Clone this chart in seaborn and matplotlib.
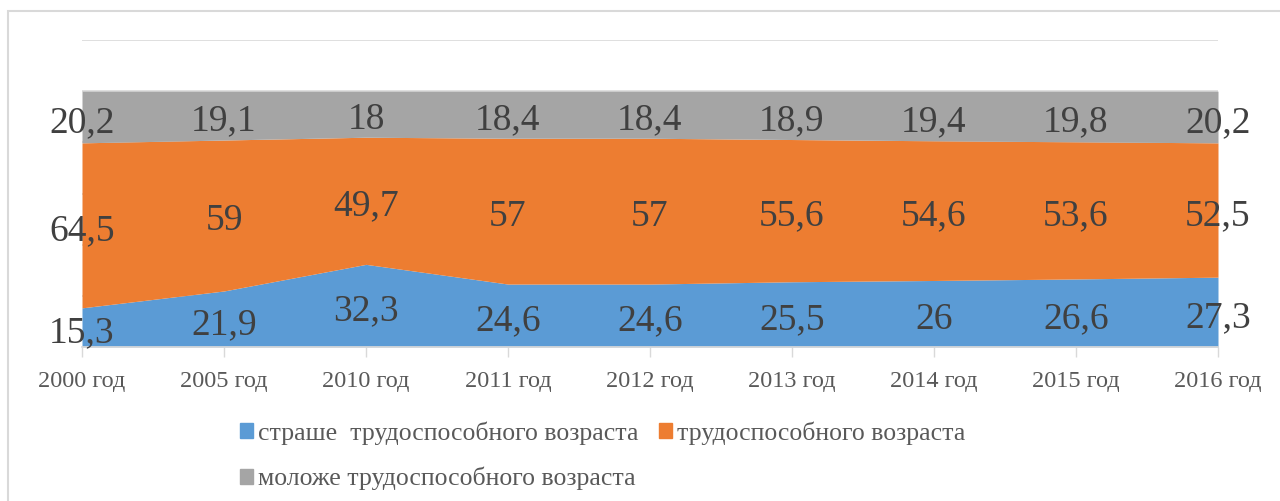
import matplotlib
matplotlib.use("Agg")
import matplotlib.pyplot as plt
import seaborn as sns
import numpy as np
from matplotlib.patches import Rectangle, Patch

years = ["2000 год", "2005 год", "2010 год", "2011 год", "2012 год",
         "2013 год", "2014 год", "2015 год", "2016 год"]
older = [15.3, 21.9, 32.3, 24.6, 24.6, 25.5, 26, 26.6, 27.3]
working = [64.5, 59, 49.7, 57, 57, 55.6, 54.6, 53.6, 52.5]
younger = [20.2, 19.1, 18, 18.4, 18.4, 18.9, 19.4, 19.8, 20.2]
series_names = ["страше  трудоспособного возраста", "трудоспособного возраста",
                "моложе трудоспособного возраста"]
colors = ["#5B9BD5", "#ED7D31", "#A5A5A5"]

sns.set_theme(style="white")
plt.rcParams["font.family"] = ["Liberation Serif", "DejaVu Serif"]

fig = plt.figure(figsize=(12.8, 5.01), dpi=100)
W, H = 1280, 501
ax = fig.add_axes([82 / W, 1 - 347 / H, (1218 - 82) / W, (347 - 40) / H])

x = np.arange(len(years))
ax.stackplot(x, older, working, younger, colors=colors, zorder=2, linewidth=0)
ax.set_xlim(0, len(years) - 1)
ax.set_ylim(0, 120)
ax.set_yticks([0, 20, 40, 60, 80, 100, 120])
ax.yaxis.grid(True, color="#D9D9D9", linewidth=1.2, zorder=0)
ax.set_axisbelow(True)
ax.tick_params(axis="y", left=False, labelleft=False)
ax.set_xticks(x)
ax.set_xticklabels(years, fontsize=17.5, color="#595959")
ax.tick_params(axis="x", bottom=True, length=7, width=1, color="#D9D9D9", pad=10)
for s in ["top", "right", "left"]:
    ax.spines[s].set_visible(False)
ax.spines["bottom"].set_color("#D9D9D9")
ax.spines["bottom"].set_zorder(3)

# data labels
base = np.zeros(len(years))
for vals in [older, working, younger]:
    v = np.array(vals, dtype=float)
    for i, val in enumerate(v):
        txt = ("%g" % val).replace(".", ",")
        ax.annotate(txt, (i, base[i] + val / 2), xytext=(0, -4),
                    textcoords="offset points", ha="center", va="center",
                    fontsize=27, color="#404040", zorder=5, annotation_clip=False)
    base += v

# legend
handles = [Patch(color=colors[0]), Patch(color=colors[2]), Patch(color=colors[1])]
labels = [series_names[0], series_names[2], series_names[1]]
fig.legend(handles, labels, ncol=2, loc="upper left",
           bbox_to_anchor=(230 / W, 1 - 411 / H), frameon=False,
           fontsize=18.5, labelcolor="#595959", handlelength=0.5, handleheight=0.5,
           handletextpad=0.2, columnspacing=0.8, labelspacing=0.86, borderaxespad=0)

# outer frame
fig.add_artist(Rectangle((8 / W, -0.1), 1.2, 1 - 11 / H + 0.1, transform=fig.transFigure,
                         fill=False, edgecolor="#D9D9D9", linewidth=1.5))

fig.savefig("out.png", dpi=100, facecolor="white")
